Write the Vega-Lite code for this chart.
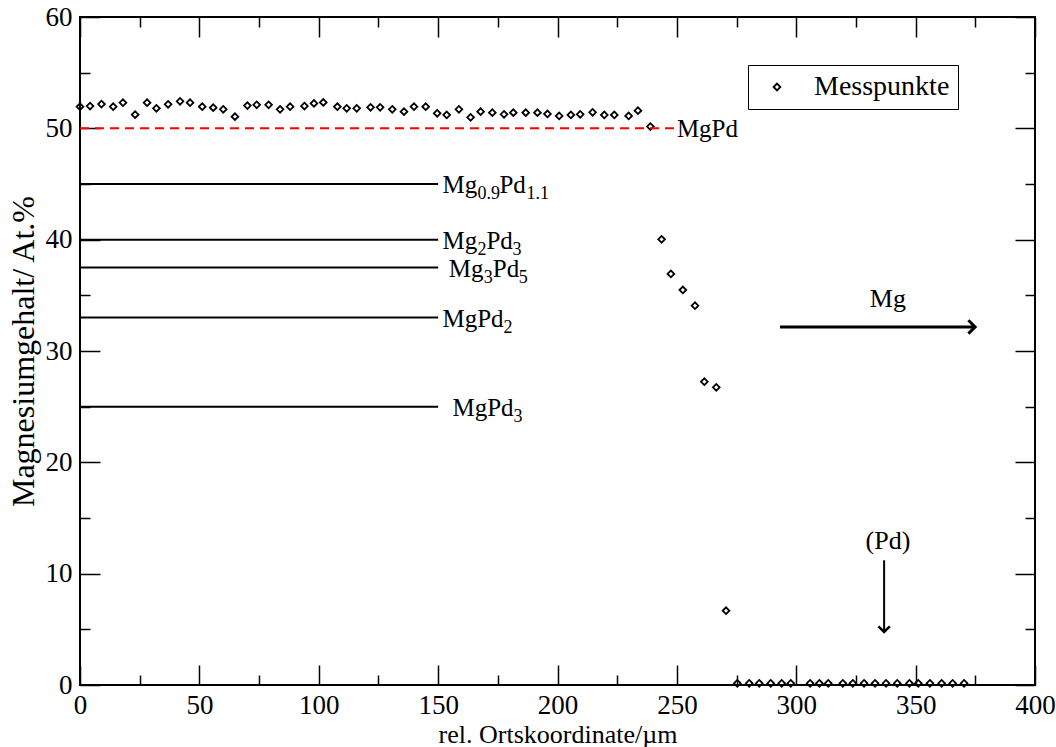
{
  "$schema": "https://vega.github.io/schema/vega-lite/v6.json",
  "width": 955,
  "height": 668,
  "autosize": {"type": "none"},
  "padding": {"left": 80, "top": 17, "right": 21, "bottom": 62},
  "background": "white",
  "config": {
    "view": {"stroke": "black", "strokeWidth": 2},
    "font": "Liberation Serif",
    "axis": {
      "labelFont": "Liberation Serif",
      "titleFont": "Liberation Serif",
      "labelColor": "black",
      "titleColor": "black",
      "tickColor": "black",
      "domain": false,
      "grid": false,
      "titleFontWeight": "normal"
    }
  },
  "datasets": {
    "pts": [
      {"x": 0, "y": 51.94}, {"x": 4.2, "y": 52.0}, {"x": 9.0, "y": 52.18}, {"x": 13.9, "y": 51.94},
      {"x": 18.0, "y": 52.3}, {"x": 23.1, "y": 51.23}, {"x": 28.1, "y": 52.3}, {"x": 32.0, "y": 51.8},
      {"x": 36.9, "y": 52.16}, {"x": 41.9, "y": 52.43}, {"x": 46.1, "y": 52.3}, {"x": 51.2, "y": 51.94},
      {"x": 55.8, "y": 51.86}, {"x": 60.0, "y": 51.71}, {"x": 64.9, "y": 51.05}, {"x": 70.1, "y": 52.04},
      {"x": 74.0, "y": 52.11}, {"x": 79.0, "y": 52.11}, {"x": 83.8, "y": 51.71}, {"x": 88.0, "y": 51.94},
      {"x": 94.0, "y": 52.0}, {"x": 98.0, "y": 52.24}, {"x": 101.9, "y": 52.33}, {"x": 107.8, "y": 51.94},
      {"x": 111.7, "y": 51.8}, {"x": 115.9, "y": 51.8}, {"x": 121.7, "y": 51.89}, {"x": 125.7, "y": 51.89},
      {"x": 130.8, "y": 51.71}, {"x": 135.7, "y": 51.5}, {"x": 139.9, "y": 51.94}, {"x": 144.8, "y": 51.94},
      {"x": 149.6, "y": 51.35}, {"x": 153.6, "y": 51.2}, {"x": 158.7, "y": 51.71}, {"x": 163.6, "y": 50.99},
      {"x": 167.8, "y": 51.5}, {"x": 172.7, "y": 51.41}, {"x": 177.6, "y": 51.26}, {"x": 181.5, "y": 51.41},
      {"x": 186.7, "y": 51.41}, {"x": 191.6, "y": 51.41}, {"x": 195.8, "y": 51.29}, {"x": 200.7, "y": 51.11},
      {"x": 205.6, "y": 51.2}, {"x": 209.5, "y": 51.26}, {"x": 214.7, "y": 51.44}, {"x": 219.6, "y": 51.2},
      {"x": 223.8, "y": 51.2}, {"x": 229.8, "y": 51.11}, {"x": 233.7, "y": 51.59}, {"x": 238.9, "y": 50.16},
      {"x": 243.6, "y": 40.03}, {"x": 247.5, "y": 36.92}, {"x": 252.5, "y": 35.48}, {"x": 257.6, "y": 34.07},
      {"x": 261.5, "y": 27.24}, {"x": 266.5, "y": 26.74}, {"x": 270.6, "y": 6.67},
      {"x": 275.3, "y": 0.15}, {"x": 280.3, "y": 0.15}, {"x": 284.5, "y": 0.15}, {"x": 289.3, "y": 0.15},
      {"x": 293.9, "y": 0.15}, {"x": 297.7, "y": 0.15}, {"x": 305.8, "y": 0.15}, {"x": 309.7, "y": 0.15},
      {"x": 313.4, "y": 0.15}, {"x": 319.5, "y": 0.15}, {"x": 323.7, "y": 0.15}, {"x": 328.4, "y": 0.15},
      {"x": 333.0, "y": 0.15}, {"x": 337.6, "y": 0.15}, {"x": 342.3, "y": 0.15}, {"x": 347.4, "y": 0.15},
      {"x": 351.1, "y": 0.15}, {"x": 356.0, "y": 0.15}, {"x": 360.9, "y": 0.15}, {"x": 365.5, "y": 0.15},
      {"x": 370.3, "y": 0.15}
    ],
    "redline": [{"x": 0, "x2": 250, "y": 50}],
    "phases": [
      {"x": 0, "x2": 150, "y": 45},
      {"x": 0, "x2": 150, "y": 40},
      {"x": 0, "x2": 150, "y": 37.5},
      {"x": 0, "x2": 150, "y": 33},
      {"x": 0, "x2": 150, "y": 25}
    ],
    "mgarrow": [{"x": 293.2, "x2": 374.5, "y": 32.16}],
    "mghead": [{"x": 374.9, "y": 32.16}],
    "pdarrow": [{"x": 336.8, "y": 11.2, "y2": 4.9}],
    "pdhead": [{"x": 336.8, "y": 4.76}],
    "segs": [
      {"grp": "main0", "t": "Mg", "x": 151.8, "y": 45},
      {"grp": "main0", "t": "Mg", "x": 151.8, "y": 40},
      {"grp": "main0", "t": "Mg", "x": 154.5, "y": 37.5},
      {"grp": "main0", "t": "MgPd", "x": 151.8, "y": 33},
      {"grp": "main0", "t": "MgPd", "x": 156.0, "y": 25},
      {"grp": "main0", "t": "MgPd", "x": 250.0, "y": 50},
      {"grp": "subA", "t": "0.9", "x": 151.8, "y": 45},
      {"grp": "subA", "t": "2", "x": 151.8, "y": 40},
      {"grp": "subA", "t": "3", "x": 154.5, "y": 37.5},
      {"grp": "subB", "t": "2", "x": 151.8, "y": 33},
      {"grp": "subB", "t": "3", "x": 156.0, "y": 25},
      {"grp": "mainB", "t": "Pd", "x": 151.8, "y": 45},
      {"grp": "mainC", "t": "Pd", "x": 151.8, "y": 40},
      {"grp": "mainC", "t": "Pd", "x": 154.5, "y": 37.5},
      {"grp": "subC", "t": "1.1", "x": 151.8, "y": 45},
      {"grp": "subD", "t": "3", "x": 151.8, "y": 40},
      {"grp": "subD", "t": "5", "x": 154.5, "y": 37.5}
    ],
    "notes": [
      {"t": "Mg", "x": 338.4, "y": 33.95},
      {"t": "(Pd)", "x": 338.4, "y": 12.2}
    ]
  },
  "resolve": {"axis": {"x": "independent", "y": "independent"}},
  "layer": [
    {
      "data": {"name": "pts"},
      "mark": {"type": "point", "filled": false, "stroke": "black", "strokeWidth": 1.8, "size": 45, "opacity": 1},
      "encoding": {
        "x": {"field": "x", "type": "quantitative", "scale": {"domain": [0, 400], "nice": false, "zero": false},
          "axis": {
            "orient": "bottom",
            "values": [0, 25, 50, 75, 100, 125, 150, 175, 200, 225, 250, 275, 300, 325, 350, 375, 400],
            "tickSize": {"condition": {"test": "datum.value % 50 === 0", "value": -20}, "value": -10},
            "tickWidth": 1.5,
            "labelExpr": "datum.value % 50 === 0 ? datum.label : ''",
            "labelFontSize": 27,
            "labelPadding": 27,
            "labelFlush": false,
            "labelOverlap": false,
            "title": "rel. Ortskoordinate/µm",
            "titleFontSize": 26,
            "titlePadding": -7
          }
        },
        "y": {"field": "y", "type": "quantitative", "scale": {"domain": [0, 60], "nice": false, "zero": false},
          "axis": {
            "orient": "left",
            "values": [0, 5, 10, 15, 20, 25, 30, 35, 40, 45, 50, 55, 60],
            "tickSize": {"condition": {"test": "datum.value % 10 === 0", "value": -20}, "value": -10},
            "tickWidth": 1.5,
            "labelExpr": "datum.value % 10 === 0 ? datum.label : ''",
            "labelFontSize": 27,
            "labelPadding": 28,
            "labelFlush": false,
            "labelOverlap": false,
            "title": "Magnesiumgehalt/ At.%",
            "titleFontSize": 32,
            "titlePadding": 5
          }
        },
        "shape": {"datum": "Messpunkte", "type": "nominal", "scale": {"range": ["diamond"]},
          "legend": {
            "orient": "none", "legendX": 668, "legendY": 48, "title": null,
            "strokeColor": "black", "padding": 8,
            "labelFont": "Liberation Serif", "labelFontSize": 28, "labelColor": "black",
            "symbolSize": 45, "symbolStrokeColor": "black", "symbolStrokeWidth": 1.8,
            "symbolFillColor": "transparent", "symbolOffset": 7, "labelOffset": 23
          }
        }
      }
    },
    {
      "data": {"name": "redline"},
      "mark": {"type": "rule", "color": "#ff0000", "strokeWidth": 2, "strokeDash": [9, 6]},
      "encoding": {
        "x": {"field": "x", "type": "quantitative", "scale": {"domain": [0, 400], "nice": false, "zero": false},
          "axis": {
            "orient": "top",
            "values": [0, 25, 50, 75, 100, 125, 150, 175, 200, 225, 250, 275, 300, 325, 350, 375, 400],
            "tickSize": {"condition": {"test": "datum.value % 50 === 0", "value": -20}, "value": -10},
            "tickWidth": 1.5, "labels": false, "title": null
          }
        },
        "x2": {"field": "x2"},
        "y": {"field": "y", "type": "quantitative", "scale": {"domain": [0, 60], "nice": false, "zero": false},
          "axis": {
            "orient": "right",
            "values": [0, 5, 10, 15, 20, 25, 30, 35, 40, 45, 50, 55, 60],
            "tickSize": {"condition": {"test": "datum.value % 10 === 0", "value": -20}, "value": -10},
            "tickWidth": 1.5, "labels": false, "title": null
          }
        }
      }
    },
    {
      "data": {"name": "phases"},
      "mark": {"type": "rule", "color": "black", "strokeWidth": 2},
      "encoding": {
        "x": {"field": "x", "type": "quantitative", "scale": {"domain": [0, 400], "nice": false, "zero": false}, "axis": null},
        "x2": {"field": "x2"},
        "y": {"field": "y", "type": "quantitative", "scale": {"domain": [0, 60], "nice": false, "zero": false}, "axis": null}
      }
    },
    {
      "data": {"name": "mgarrow"},
      "mark": {"type": "rule", "color": "black", "strokeWidth": 3},
      "encoding": {
        "x": {"field": "x", "type": "quantitative", "scale": {"domain": [0, 400], "nice": false, "zero": false}, "axis": null},
        "x2": {"field": "x2"},
        "y": {"field": "y", "type": "quantitative", "scale": {"domain": [0, 60], "nice": false, "zero": false}, "axis": null}
      }
    },
    {
      "data": {"name": "mghead"},
      "mark": {"type": "point", "shape": "M-1,-1L0,0L-1,1", "filled": false, "stroke": "black", "strokeWidth": 3, "size": 180, "opacity": 1, "strokeJoin": "miter"},
      "encoding": {
        "x": {"field": "x", "type": "quantitative", "scale": {"domain": [0, 400], "nice": false, "zero": false}, "axis": null},
        "y": {"field": "y", "type": "quantitative", "scale": {"domain": [0, 60], "nice": false, "zero": false}, "axis": null}
      }
    },
    {
      "data": {"name": "pdarrow"},
      "mark": {"type": "rule", "color": "black", "strokeWidth": 2},
      "encoding": {
        "x": {"field": "x", "type": "quantitative", "scale": {"domain": [0, 400], "nice": false, "zero": false}, "axis": null},
        "y": {"field": "y", "type": "quantitative", "scale": {"domain": [0, 60], "nice": false, "zero": false}, "axis": null},
        "y2": {"field": "y2"}
      }
    },
    {
      "data": {"name": "pdhead"},
      "mark": {"type": "point", "shape": "M-1,-1L0,0L1,-1", "filled": false, "stroke": "black", "strokeWidth": 2.5, "size": 130, "opacity": 1, "strokeJoin": "miter"},
      "encoding": {
        "x": {"field": "x", "type": "quantitative", "scale": {"domain": [0, 400], "nice": false, "zero": false}, "axis": null},
        "y": {"field": "y", "type": "quantitative", "scale": {"domain": [0, 60], "nice": false, "zero": false}, "axis": null}
      }
    },
    {
      "data": {"name": "segs"},
      "transform": [{"filter": "datum.grp === 'main0'"}],
      "mark": {"type": "text", "font": "Liberation Serif", "fontSize": 25, "color": "black", "align": "left", "baseline": "alphabetic", "dx": 0, "dy": 9},
      "encoding": {
        "x": {"field": "x", "type": "quantitative", "scale": {"domain": [0, 400], "nice": false, "zero": false}, "axis": null},
        "y": {"field": "y", "type": "quantitative", "scale": {"domain": [0, 60], "nice": false, "zero": false}, "axis": null},
        "text": {"field": "t"}
      }
    },
    {
      "data": {"name": "segs"},
      "transform": [{"filter": "datum.grp === 'subA'"}],
      "mark": {"type": "text", "font": "Liberation Serif", "fontSize": 18, "color": "black", "align": "left", "baseline": "alphabetic", "dx": 35, "dy": 15},
      "encoding": {
        "x": {"field": "x", "type": "quantitative", "scale": {"domain": [0, 400], "nice": false, "zero": false}, "axis": null},
        "y": {"field": "y", "type": "quantitative", "scale": {"domain": [0, 60], "nice": false, "zero": false}, "axis": null},
        "text": {"field": "t"}
      }
    },
    {
      "data": {"name": "segs"},
      "transform": [{"filter": "datum.grp === 'subB'"}],
      "mark": {"type": "text", "font": "Liberation Serif", "fontSize": 18, "color": "black", "align": "left", "baseline": "alphabetic", "dx": 61, "dy": 15},
      "encoding": {
        "x": {"field": "x", "type": "quantitative", "scale": {"domain": [0, 400], "nice": false, "zero": false}, "axis": null},
        "y": {"field": "y", "type": "quantitative", "scale": {"domain": [0, 60], "nice": false, "zero": false}, "axis": null},
        "text": {"field": "t"}
      }
    },
    {
      "data": {"name": "segs"},
      "transform": [{"filter": "datum.grp === 'mainB'"}],
      "mark": {"type": "text", "font": "Liberation Serif", "fontSize": 25, "color": "black", "align": "left", "baseline": "alphabetic", "dx": 57, "dy": 9},
      "encoding": {
        "x": {"field": "x", "type": "quantitative", "scale": {"domain": [0, 400], "nice": false, "zero": false}, "axis": null},
        "y": {"field": "y", "type": "quantitative", "scale": {"domain": [0, 60], "nice": false, "zero": false}, "axis": null},
        "text": {"field": "t"}
      }
    },
    {
      "data": {"name": "segs"},
      "transform": [{"filter": "datum.grp === 'mainC'"}],
      "mark": {"type": "text", "font": "Liberation Serif", "fontSize": 25, "color": "black", "align": "left", "baseline": "alphabetic", "dx": 44, "dy": 9},
      "encoding": {
        "x": {"field": "x", "type": "quantitative", "scale": {"domain": [0, 400], "nice": false, "zero": false}, "axis": null},
        "y": {"field": "y", "type": "quantitative", "scale": {"domain": [0, 60], "nice": false, "zero": false}, "axis": null},
        "text": {"field": "t"}
      }
    },
    {
      "data": {"name": "segs"},
      "transform": [{"filter": "datum.grp === 'subC'"}],
      "mark": {"type": "text", "font": "Liberation Serif", "fontSize": 18, "color": "black", "align": "left", "baseline": "alphabetic", "dx": 84, "dy": 15},
      "encoding": {
        "x": {"field": "x", "type": "quantitative", "scale": {"domain": [0, 400], "nice": false, "zero": false}, "axis": null},
        "y": {"field": "y", "type": "quantitative", "scale": {"domain": [0, 60], "nice": false, "zero": false}, "axis": null},
        "text": {"field": "t"}
      }
    },
    {
      "data": {"name": "segs"},
      "transform": [{"filter": "datum.grp === 'subD'"}],
      "mark": {"type": "text", "font": "Liberation Serif", "fontSize": 18, "color": "black", "align": "left", "baseline": "alphabetic", "dx": 70, "dy": 15},
      "encoding": {
        "x": {"field": "x", "type": "quantitative", "scale": {"domain": [0, 400], "nice": false, "zero": false}, "axis": null},
        "y": {"field": "y", "type": "quantitative", "scale": {"domain": [0, 60], "nice": false, "zero": false}, "axis": null},
        "text": {"field": "t"}
      }
    },
    {
      "data": {"name": "notes"},
      "mark": {"type": "text", "font": "Liberation Serif", "fontSize": 26, "color": "black", "align": "center", "baseline": "alphabetic"},
      "encoding": {
        "x": {"field": "x", "type": "quantitative", "scale": {"domain": [0, 400], "nice": false, "zero": false}, "axis": null},
        "y": {"field": "y", "type": "quantitative", "scale": {"domain": [0, 60], "nice": false, "zero": false}, "axis": null},
        "text": {"field": "t"}
      }
    }
  ]
}
